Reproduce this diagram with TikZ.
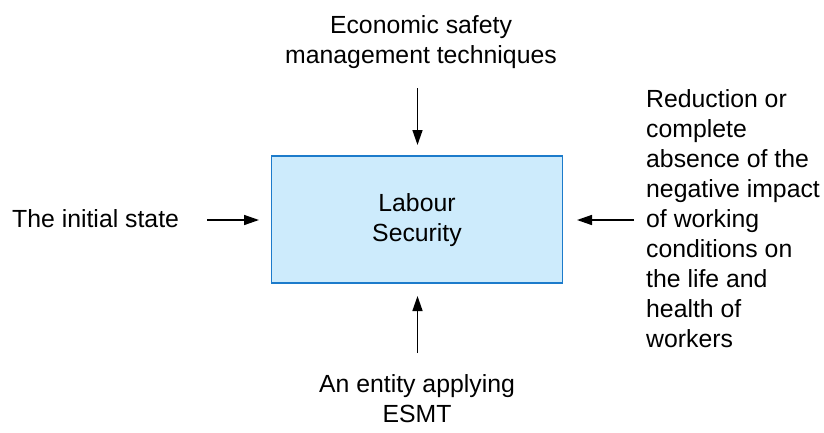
\documentclass[tikz,border=0pt]{standalone}
\usepackage{fontspec}
\setmainfont{Liberation Sans}
\usetikzlibrary{arrows.meta}
\definecolor{boxfill}{HTML}{CDEBFC}
\definecolor{boxline}{HTML}{1C7BCB}
\tikzset{
  lbl/.style={font=\fontsize{24.8}{30}\selectfont, inner sep=0pt, align=center, anchor=base},
  lblr/.style={font=\fontsize{24.8}{30}\selectfont, inner sep=0pt, align=left, anchor=base west},
  mainbox/.style={draw=boxline, fill=boxfill, line width=1.5pt, minimum width=291pt, minimum height=127pt, inner sep=0pt},
  arr/.style={-{Triangle[length=15pt,width=10pt]}, line width=1.5pt, black}
}
\begin{document}
\begin{tikzpicture}[x=1pt,y=-1pt]
\useasboundingbox (0,0) rectangle (824,432);
\node[mainbox] (box) at (417,219.5) {};
\node[lbl] (boxtxt) at (417,241) {Labour\\Security};
\node[lbl] (top) at (421,63) {Economic safety\\management techniques};
\node[lbl] (bottom) at (417,422) {An entity applying\\ESMT};
\node[lbl, anchor=base west] (left) at (12,227) {The initial state};
\node[lblr] (right) at (646,347) {Reduction or\\complete\\absence of the\\negative impact\\of working\\conditions on\\the life and\\health of\\workers};
\coordinate (topS) at (417.5,88);
\coordinate (topE) at (417.5,145);
\coordinate (botS) at (417.5,353);
\coordinate (botE) at (417.5,296);
\coordinate (leftS) at (207,220);
\coordinate (leftE) at (259,220);
\coordinate (rightS) at (634,220);
\coordinate (rightE) at (577,220);
\draw[arr] (topS) -- (topE);
\draw[arr] (botS) -- (botE);
\draw[arr] (leftS) -- (leftE);
\draw[arr] (rightS) -- (rightE);
\end{tikzpicture}
\end{document}
